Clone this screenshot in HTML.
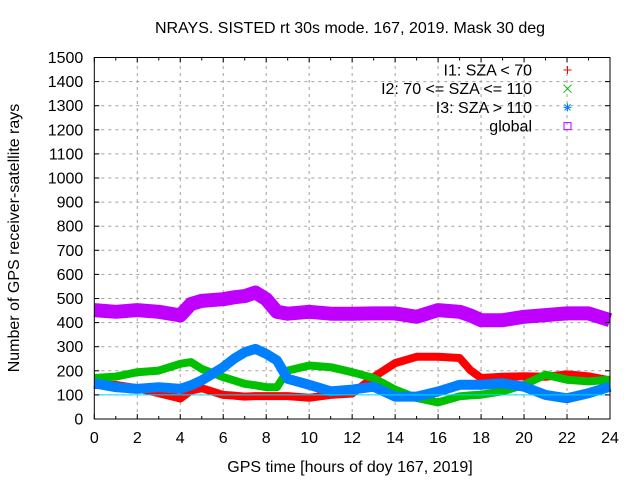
<!DOCTYPE html>
<html><head><meta charset="utf-8"><style>
body{margin:0;background:#fff}
svg{display:block;font-family:"Liberation Sans",sans-serif}
</style></head><body>
<svg id="chart" width="640" height="480">
<g id="grid"></g>
<g id="series"></g>
<g id="axes"></g>
<text x="350" y="33" text-anchor="middle" font-size="16">NRAYS. SISTED rt 30s mode. 167, 2019. Mask 30 deg</text>
<text x="350" y="472" text-anchor="middle" font-size="16">GPS time [hours of doy 167, 2019]</text>
<text transform="translate(19,238) rotate(-90)" text-anchor="middle" font-size="16">Number of GPS receiver-satellite rays</text>
<g id="legend"></g>
</svg>
<script>
const hours = [0,1,2,3,4,4.5,5,6,6.5,7,7.5,8,8.5,9,10,11,12,13,14,15,16,17,17.5,18,19,20,21,22,23,24];
const globalVals = [452,445,452,445,430,477,490,497,505,510,525,497,445,437,445,437,437,438,438,424,452,445,430,410,410,424,431,438,438,410];
const i1Vals = [141,141,128,107,85,118,128,100,97,93,95,95,95,95,88,100,106,174,232,258,258,253,203,170,175,177,175,185,177,160];
const i2Vals = [170,176,194,201,229,236,208,174,160,146,140,132,132,201,222,215,194,170,122,87,69,94,98,101,115,142,184,163,156,163];
const i3Vals = [148,132,125,132,125,140,160,215,250,277,291,270,243,167,142,115,122,134,93,93,114,142,142,142,148,134,100,86,107,134];
const yTicks = [0,100,200,300,400,500,600,700,800,900,1000,1100,1200,1300,1400,1500];
const xTicks = [0,2,4,6,8,10,12,14,16,18,20,22,24];
const legendLabels = ["I1: SZA < 70","I2: 70 <= SZA <= 110","I3: SZA > 110","global"];
const refLine = 100;

const X0=94.3,X1=610,Y0=419,Y1=57.5;
const sx=h=>X0+(X1-X0)*h/24;
const sy=v=>Y0-(Y0-Y1)*v/1500;
const NS="http://www.w3.org/2000/svg";
function mk(tag,attrs,parent){const e=document.createElementNS(NS,tag);for(const k in attrs)e.setAttribute(k,attrs[k]);parent.appendChild(e);return e;}
const grid=document.getElementById('grid'),axes=document.getElementById('axes'),ser=document.getElementById('series'),leg=document.getElementById('legend');

yTicks.forEach(v=>{
  if(v>0&&v<1500){const l=mk('line',{x1:X0,x2:X1,y1:sy(v),y2:sy(v),stroke:'#a0a0a0','stroke-dasharray':'3,4'},grid);
  }
  const t=mk('line',{x1:X0,x2:X0+5,y1:sy(v),y2:sy(v),stroke:'#000'},axes);
  
  const t2=mk('line',{x1:X1-5,x2:X1,y1:sy(v),y2:sy(v),stroke:'#000'},axes);
  
  const tx=mk('text',{x:X0-11,y:sy(v)+5.5,'text-anchor':'end','font-size':'16'},axes);tx.textContent=v;
  
});
for(let h=0;h<=24;h++){
  const major=h%2===0;
  const t=mk('line',{x1:sx(h),x2:sx(h),y1:Y0,y2:Y0-(major?5:3),stroke:'#000'},axes);
  
  const t2=mk('line',{x1:sx(h),x2:sx(h),y1:Y1,y2:Y1+(major?5:3),stroke:'#000'},axes);
  
}
xTicks.forEach(h=>{
  if(h>0&&h<24){const l=mk('line',{x1:sx(h),x2:sx(h),y1:Y0,y2:Y1,stroke:'#a0a0a0','stroke-dasharray':'3,4'},grid);
  }
  const tx=mk('text',{x:sx(h),y:Y0+24,'text-anchor':'middle','font-size':'16'},axes);tx.textContent=h;
  
});
const frame=mk('rect',{x:X0,y:Y1,width:X1-X0,height:Y0-Y1,fill:'none',stroke:'#000'},axes);


function band(vals,color,w,name){
  const d=vals.map((v,i)=>(i?'L':'M')+sx(hours[i]).toFixed(1)+','+sy(v).toFixed(1)).join('');
  const p=mk('path',{d:d,fill:'none',stroke:color,'stroke-width':w,'stroke-linejoin':'round'},ser);
  
}
band(globalVals,'#c000ff',14,'series-global');
band(i1Vals,'#ff0000',8,'series-i1');
band(i2Vals,'#00c000',8,'series-i2');
band(i3Vals,'#0080ff',10,'series-i3');
const rl=mk('line',{x1:X0,x2:X1-3,y1:sy(refLine),y2:sy(refLine),stroke:'#00e0ff','stroke-width':1},ser);


const colors=['#ff0000','#00c000','#0080ff','#c000ff'];
legendLabels.forEach((lab,i)=>{
  const y=70+i*18.7;
  const t=mk('text',{x:532,y:y+5.5,'text-anchor':'end','font-size':'16'},leg);t.textContent=lab;
  
  const cx=567.5,c=colors[i];
  const g=mk('g',{stroke:c,fill:'none','stroke-width':1},leg);
  
  if(i===0){mk('path',{d:`M${cx-4},${y}H${cx+4}M${cx},${y-4}V${y+4}`},g);}
  else if(i===1){mk('path',{d:`M${cx-4},${y-4}L${cx+4},${y+4}M${cx-4},${y+4}L${cx+4},${y-4}`},g);}
  else if(i===2){mk('path',{d:`M${cx-4},${y}H${cx+4}M${cx},${y-4}V${y+4}M${cx-3},${y-3}L${cx+3},${y+3}M${cx-3},${y+3}L${cx+3},${y-3}`},g);}
  else {mk('rect',{x:cx-3.5,y:y-3.5,width:7,height:7},g);}
});
</script>
</body></html>
